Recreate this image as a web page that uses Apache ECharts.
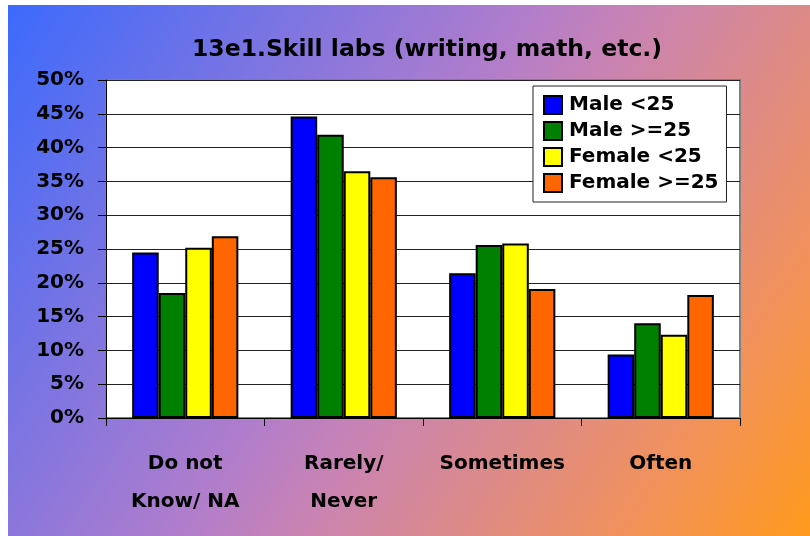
<!DOCTYPE html>
<html>
<head>
<meta charset="utf-8">
<script src="https://cdn.jsdelivr.net/npm/echarts@6/dist/echarts.min.js"></script>
<style>
html,body{margin:0;padding:0;background:#fff;}
#chart{width:810px;height:536px;}
</style>
</head>
<body>
<div id="chart"></div>
<script>
var titleText = '13e1.Skill labs (writing, math, etc.)';
var categories = ['Do not\nKnow/ NA', 'Rarely/\nNever', 'Sometimes', 'Often'];
var seriesNames = ['Male <25', 'Male >=25', 'Female <25', 'Female >=25'];
var maleUnder25 = [24.5, 44.6, 21.4, 9.4];
var maleOver25 = [18.5, 41.9, 25.6, 14.0];
var femaleUnder25 = [25.2, 36.5, 25.8, 12.3];
var femaleOver25 = [26.9, 35.6, 19.1, 18.2];
var colors = ['#0000ff', '#008000', '#ffff00', '#ff6600'];

var FONT = 'DejaVu Sans';
var chart = echarts.init(document.getElementById('chart'), null, {renderer: 'canvas'});
var dataSets = [maleUnder25, maleOver25, femaleUnder25, femaleOver25];

var option = {
  backgroundColor: '#ffffff',
  animation: false,
  graphic: [{
    type: 'rect',
    z: -100,
    silent: true,
    shape: {x: 8, y: 5, width: 802, height: 531},
    style: {
      fill: new echarts.graphic.LinearGradient(0, 0, 1, 1, [
        {offset: 0, color: '#3c6afc'},
        {offset: 0.45, color: '#b07dcc'},
        {offset: 0.55, color: '#c883b4'},
        {offset: 0.83, color: '#f0915e'},
        {offset: 1, color: '#ff9a1c'}
      ])
    }
  }],
  title: {
    text: titleText,
    left: 422,
    textAlign: 'center',
    top: 33,
    textStyle: {fontFamily: FONT, fontWeight: 'bold', fontSize: 23.5, color: '#000'}
  },
  legend: {
    orient: 'vertical',
    left: 533,
    top: 86,
    padding: [9, 8, 9, 10],
    itemGap: 6,
    itemWidth: 18,
    itemHeight: 18,
    icon: 'rect',
    backgroundColor: '#ffffff',
    borderColor: '#222',
    borderWidth: 1,
    textStyle: {fontFamily: FONT, fontWeight: 'bold', fontSize: 20, color: '#000', lineHeight: 20, padding: [0, 0, 0, 2]},
    data: seriesNames
  },
  grid: {
    left: 106,
    right: 70,
    top: 80,
    bottom: 118,
    show: true,
    backgroundColor: '#ffffff',
    borderColor: '#808080',
    borderWidth: 2
  },
  xAxis: {
    type: 'category',
    data: categories,
    axisLine: {lineStyle: {color: '#000', width: 1}},
    axisTick: {show: true, length: 8, lineStyle: {color: '#000'}},
    axisLabel: {
      fontFamily: FONT, fontWeight: 'bold', fontSize: 20, color: '#000',
      lineHeight: 38, margin: 27, interval: 0
    }
  },
  yAxis: {
    type: 'value',
    min: 0,
    max: 50,
    interval: 5,
    axisLine: {show: true, lineStyle: {color: '#000', width: 1}},
    axisTick: {show: true, length: 8, lineStyle: {color: '#000'}},
    splitLine: {show: true, lineStyle: {color: '#222', width: 1}},
    axisLabel: {
      fontFamily: FONT, fontWeight: 'bold', fontSize: 20, color: '#000',
      margin: 22, formatter: '{value}%'
    }
  },
  series: seriesNames.map(function (name, i) {
    return {
      name: name,
      type: 'bar',
      data: dataSets[i],
      barGap: '0%',
      barCategoryGap: '33%',
      itemStyle: {color: colors[i], borderColor: '#000', borderWidth: 2}
    };
  })
};
chart.setOption(option);
</script>
</body>
</html>
